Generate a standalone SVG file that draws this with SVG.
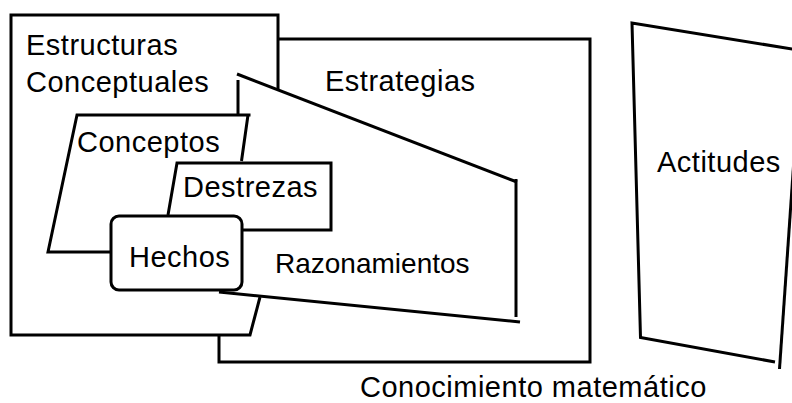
<svg xmlns="http://www.w3.org/2000/svg" width="792" height="403" viewBox="0 0 792 403">
<style>
.ln{fill:none;stroke:#000;stroke-width:3;stroke-linejoin:miter;stroke-linecap:butt}
.box{fill:#fff;stroke:#000;stroke-width:3}
text{font-family:"Liberation Sans",Arial,Helvetica,sans-serif;font-size:29px;letter-spacing:0.5px;fill:#000}
</style>
<rect width="792" height="403" fill="#fff"/>
<g id="estructuras">
<polyline class="ln" points="278,89 278,15 11,15 11,335 250,335 260,297"/>
<text x="26" y="55">Estructuras</text>
<text x="26" y="92">Conceptuales</text>
</g>
<g id="estrategias">
<polyline class="ln" points="278,39 590,39 590,362 219,362 219,334"/>
<text x="325" y="91">Estrategias</text>
</g>
<g id="razonamientos">
<line class="ln" x1="237" y1="74" x2="517" y2="182"/>
<line class="ln" x1="516" y1="179" x2="516" y2="317"/>
<line class="ln" x1="520" y1="322" x2="219" y2="292"/>
<line class="ln" x1="238" y1="80" x2="238" y2="114"/>
<text x="275" y="273" style="font-size:28px;letter-spacing:0">Razonamientos</text>
</g>
<g id="conceptos">
<polyline class="ln" points="241.5,161 248,115 250.5,115 77,115 48,252 111,252"/>
<text x="77" y="152">Conceptos</text>
</g>
<g id="destrezas">
<polyline class="ln" points="168,215 177,163 331,163 331,230 242,230"/>
<text x="183" y="197">Destrezas</text>
</g>
<g id="hechos">
<rect class="box" x="111" y="216" width="131" height="74" rx="8"/>
<text x="129" y="267">Hechos</text>
</g>
<g id="actitudes">
<polyline class="ln" points="800,50.3 632,23 640.5,337.5 775,362"/>
<line class="ln" x1="779.5" y1="369" x2="794.6" y2="150"/>
<text x="657" y="172">Actitudes</text>
</g>
<g id="conocimiento">
<text x="360" y="397">Conocimiento matemático</text>
</g>
</svg>
